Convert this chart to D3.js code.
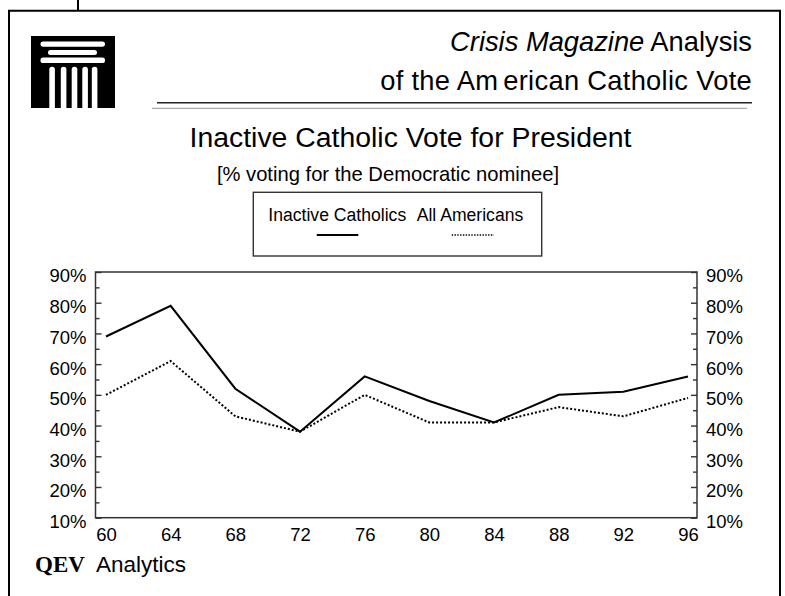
<!DOCTYPE html>
<html>
<head>
<meta charset="utf-8">
<script src="https://cdn.jsdelivr.net/npm/d3@7"></script>
<style>
  html, body { margin: 0; padding: 0; background: #fff; }
  svg { display: block; }
  text { font-family: "Liberation Sans", Arial, sans-serif; fill: #000; }
</style>
</head>
<body>
<script>
// ---- data ----
const years = [60, 64, 68, 72, 76, 80, 84, 88, 92, 96];
const inactiveCatholics = [69, 79, 52, 38, 56, 48, 41, 50, 51, 56];
const allAmericans = [50, 61, 43, 38, 50, 41, 41, 46, 43, 49];
const yTicks = [10, 20, 30, 40, 50, 60, 70, 80, 90];
const yMinorTicks = [15, 25, 35, 45, 55, 65, 75, 85];
const seriesNames = ["Inactive Catholics", "All Americans"];

const W = 785, H = 596;
const svg = d3.select("body").append("svg").attr("width", W).attr("height", H);

// ---- frame ----
svg.append("path").attr("d", "M9,600V10.7H780V600").attr("fill", "none").attr("stroke", "#000").attr("stroke-width", 2);
svg.append("line").attr("x1", 78).attr("x2", 78).attr("y1", 0).attr("y2", 10.7).attr("stroke", "#000").attr("stroke-width", 2);

// ---- logo ----
const logo = svg.append("g");
logo.append("rect").attr("x", 31).attr("y", 36).attr("width", 84).attr("height", 72).attr("fill", "#000");
const bars = [[40.5, 41.5, 64.5, 5.2], [48, 50, 49, 5], [40.5, 57.5, 64.5, 5.6]];
logo.selectAll(".bar").data(bars).join("rect")
  .attr("x", d => d[0]).attr("y", d => d[1]).attr("width", d => d[2]).attr("height", d => d[3])
  .attr("rx", 2.6).attr("fill", "#fff");
const cols = [49.3, 60.8, 71.7, 82.3, 91.8];
logo.selectAll(".col").data(cols).join("path")
  .attr("d", d => `M${d},108V69.5a2.8,2.8 0 0 1 5.6,0V108Z`).attr("fill", "#fff");

// ---- header ----
const h1 = svg.append("text").attr("x", 752).attr("y", 51).attr("text-anchor", "end").attr("font-size", 27.3);
h1.append("tspan").attr("font-style", "italic").text("Crisis Magazine");
h1.append("tspan").text(" Analysis");
const h2 = svg.append("text").attr("x", 752).attr("y", 90).attr("text-anchor", "end").attr("font-size", 27.3)
  .attr("letter-spacing", 0.3);
h2.append("tspan").text("of the Am");
h2.append("tspan").attr("dx", 5).text("erican Catholic Vote");
svg.append("line").attr("x1", 157).attr("x2", 752).attr("y1", 102.8).attr("y2", 102.8).attr("stroke", "#222").attr("stroke-width", 1.6);
svg.append("line").attr("x1", 152).attr("x2", 747).attr("y1", 108.3).attr("y2", 108.3).attr("stroke", "#aaa").attr("stroke-width", 1.2);

// ---- titles ----
svg.append("text").attr("x", 410.5).attr("y", 147.3).attr("text-anchor", "middle").attr("font-size", 28.4)
  .text("Inactive Catholic Vote for President");
svg.append("text").attr("x", 388).attr("y", 181).attr("text-anchor", "middle").attr("font-size", 20.2)
  .text("[% voting for the Democratic nominee]");

// ---- legend ----
svg.append("rect").attr("x", 253.3).attr("y", 192.3).attr("width", 288.4).attr("height", 63.7)
  .attr("fill", "none").attr("stroke", "#333").attr("stroke-width", 1.4);
svg.append("text").attr("x", 268.3).attr("y", 221).attr("font-size", 17.6).text(seriesNames[0]);
svg.append("text").attr("x", 416.7).attr("y", 221).attr("font-size", 17.6).text(seriesNames[1]);
svg.append("line").attr("x1", 316.7).attr("x2", 358.3).attr("y1", 235).attr("y2", 235).attr("stroke", "#000").attr("stroke-width", 2);
svg.append("line").attr("x1", 451.7).attr("x2", 494).attr("y1", 235).attr("y2", 235).attr("stroke", "#000").attr("stroke-width", 1.3).attr("stroke-dasharray", "1.4,1.4");

// ---- scales ----
const plotL = 95.5, plotR = 697, plotT = 272, plotB = 517.7;
const x = d3.scaleLinear().domain([60, 96]).range([106, 688]);
const y = d3.scaleLinear().domain([10, 90]).range([plotB, plotT]);

// ---- plot box ----
svg.append("rect").attr("x", plotL).attr("y", plotT).attr("width", plotR - plotL).attr("height", plotB - plotT)
  .attr("fill", "none").attr("stroke", "#333").attr("stroke-width", 1.5);

// ---- axes ----
const axisStyle = g => {
  g.select(".domain").remove();
  g.selectAll("line").attr("stroke", "#333").attr("stroke-width", 1.4);
  g.selectAll("text").attr("font-size", 18.5).attr("fill", "#000");
};
svg.append("g").attr("transform", `translate(${plotL},0)`)
  .call(d3.axisLeft(y).tickValues(yTicks).tickFormat(d => d + "%").tickSize(-6).tickPadding(9))
  .call(axisStyle).call(g => g.selectAll("text").attr("transform", "translate(0,4)"));
svg.append("g").attr("transform", `translate(${plotL},0)`)
  .call(d3.axisLeft(y).tickValues(yMinorTicks).tickFormat("").tickSize(-4)).call(axisStyle);
svg.append("g").attr("transform", `translate(${plotR},0)`)
  .call(d3.axisRight(y).tickValues(yTicks).tickFormat(d => d + "%").tickSize(-6).tickPadding(9))
  .call(axisStyle).call(g => g.selectAll("text").attr("transform", "translate(0,4)"));
svg.append("g").attr("transform", `translate(${plotR},0)`)
  .call(d3.axisRight(y).tickValues(yMinorTicks).tickFormat("").tickSize(-4)).call(axisStyle);
svg.append("g").attr("transform", `translate(0,${plotB})`)
  .call(d3.axisBottom(x).tickValues(years).tickFormat(d => d).tickSize(0).tickPadding(10.5))
  .call(axisStyle);

// ---- lines ----
const line = d3.line().x((d, i) => x(years[i])).y(d => y(d));
svg.append("path").datum(allAmericans).attr("d", line).attr("fill", "none")
  .attr("stroke", "#000").attr("stroke-width", 2).attr("stroke-dasharray", "2,2");
svg.append("path").datum(inactiveCatholics).attr("d", line).attr("fill", "none")
  .attr("stroke", "#000").attr("stroke-width", 2).attr("stroke-linejoin", "miter");

// ---- footer ----
svg.append("text").attr("x", 35).attr("y", 572)
  .style("font-family", "\"Liberation Serif\", \"Times New Roman\", serif").style("font-weight", "bold")
  .style("font-size", "23px").text("QEV");
svg.append("text").attr("x", 96).attr("y", 572).attr("font-size", 22.5).text("Analytics");
</script>
</body>
</html>
